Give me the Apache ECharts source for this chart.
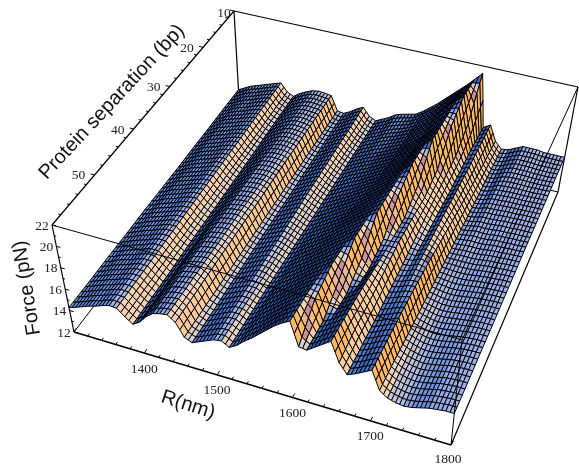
<!DOCTYPE html>
<html><head><meta charset="utf-8"><style>html,body{margin:0;padding:0;background:#fff}#c{width:579px;height:465px}</style>
<script src="https://cdn.jsdelivr.net/npm/echarts@6/dist/echarts.min.js"></script></head>
<body><div id="c"></div>
<script>
// Force (pN); columns R = 1300..1800 nm every 10 nm
const rValues = []; for (let r = 1300; r <= 1800; r += 10) rValues.push(r);
const sepValues = [10,15,20,25,30,35,40,45,50,55,60];
const sep10 = [14.5,14.8,15.1,15.3,15.5,15.7,15.9,16.1,15.4,15.1,15.5,15.8,16.05,16.15,16.1,16.0,14.7,14.6,14.9,15.3,15.6,14.9, 14.6,14.9,15.2,15.6,15.8,15.95,16.1,16.5,17.0,17.5,18.1,18.7,19.3,19.9,20.6,21.3,16.3,16.7,15.3,14.7,14.8,15.1, 15.4,15.4,15.4,15.3,15.3,15.3,15.3];
const sep15 = [14.5,14.75,15.05,15.3,15.45,15.7,15.9,16.05,15.35,15.05,15.45,15.8,16.05,16.15,16.1,16.0,14.7,14.6,14.9,15.25,15.55,14.95, 14.65,15.0,15.25,15.6,15.85,16.05,16.3,16.6,17.1,17.6,18.2,18.9,19.6,20.3,20.9,18.4,16.4,16.65,15.4,14.7,14.8,15.1, 15.3,15.3,15.3,15.25,15.25,15.25,15.3];
const sep20 = [14.45,14.75,15.05,15.25,15.45,15.65,15.85,16.0,15.3,15.0,15.4,15.75,16.05,16.2,16.15,16.0,14.7,14.55,14.85,15.25,15.55,15.0, 14.7,15.05,15.35,15.65,15.9,16.2,16.5,16.8,17.3,17.8,18.3,19.0,19.7,20.4,20.0,17.3,16.3,16.6,15.5,14.7,14.8,15.1, 15.15,15.2,15.2,15.2,15.2,15.25,15.25];
const sep25 = [14.45,14.7,15.0,15.2,15.4,15.65,15.85,15.95,15.25,14.9,15.3,15.75,16.05,16.2,16.2,16.0,14.7,14.55,14.85,15.2,15.5,15.05, 14.75,15.1,15.45,15.75,16.05,16.4,16.75,17.1,17.6,18.1,18.6,19.3,20.0,20.6,17.9,17.1,16.2,16.6,15.7,14.75,14.85,15.05, 15.05,15.1,15.15,15.15,15.2,15.2,15.2];
const sep30 = [14.4,14.65,14.95,15.2,15.4,15.6,15.85,15.9,15.25,14.85,15.25,15.7,16.1,16.2,16.2,16.0,14.7,14.5,14.85,15.2,15.5,15.1, 14.8,15.15,15.5,15.85,16.2,16.6,17.0,17.4,17.9,18.4,19.0,19.6,20.2,18.4,17.4,16.9,16.3,16.7,15.9,14.8,14.9,15.0, 14.95,15.0,15.1,15.1,15.15,15.15,15.2];
const sep35 = [14.4,14.65,14.95,15.15,15.35,15.6,15.8,15.85,15.2,14.8,15.2,15.7,16.1,16.2,16.25,15.95,14.7,14.5,14.8,15.15,15.45,15.15, 14.85,15.2,15.6,16.0,16.4,16.8,17.2,17.7,18.2,18.7,19.3,19.8,19.4,17.5,17.6,16.6,16.3,16.7,16.2,14.85,14.85,14.85, 14.85,14.9,15.0,15.05,15.1,15.15,15.15];
const sep40 = [14.4,14.6,14.9,15.1,15.3,15.55,15.75,15.8,15.15,14.75,15.15,15.7,16.1,16.25,16.3,15.95,14.7,14.5,14.8,15.1,15.4,15.2, 14.9,15.25,15.7,16.1,16.55,17.0,17.5,18.0,18.5,19.0,19.5,19.9,17.6,17.6,17.7,16.3,16.35,16.7,16.5,14.9,14.8,14.7, 14.7,14.8,14.9,15.0,15.05,15.1,15.1];
const sep45 = [14.35,14.6,14.85,15.1,15.3,15.55,15.75,15.75,15.1,14.7,15.05,15.65,16.1,16.25,16.3,15.95,14.7,14.45,14.75,15.1,15.4,15.25, 14.95,15.3,15.8,16.25,16.7,17.2,17.7,18.2,18.7,19.2,19.7,18.0,17.2,17.8,17.4,16.1,16.3,16.6,16.7,14.95,14.75,14.6, 14.6,14.7,14.8,14.9,15.0,15.05,15.05];
const sep50 = [14.35,14.55,14.85,15.05,15.25,15.5,15.7,15.7,15.1,14.6,15.0,15.65,16.1,16.25,16.35,15.95,14.7,14.45,14.75,15.05,15.35,15.3, 15.0,15.35,15.9,16.35,16.85,17.35,17.9,18.4,18.85,19.4,18.2,17.1,17.6,18.1,17.1,15.9,16.2,16.5,16.8,15.0,14.75,14.55, 14.5,14.6,14.75,14.9,15.0,15.05,15.05];
const sep55 = [14.3,14.55,14.8,15.05,15.25,15.5,15.7,15.65,15.05,14.55,14.95,15.6,16.1,16.3,16.35,15.9,14.7,14.4,14.7,15.05,15.35,15.35, 15.0,15.4,15.95,16.45,17.0,17.55,18.1,18.6,19.1,18.8,16.9,17.3,17.8,18.3,17.0,15.8,16.1,16.5,16.8,15.1,14.7,14.5, 14.4,14.5,14.65,14.85,14.95,15.0,15.0];
const sep60 = [14.3,14.5,14.75,15.0,15.2,15.45,15.65,15.6,15.0,14.5,14.9,15.6,16.1,16.3,16.4,15.9,14.7,14.4,14.7,15.0,15.3,15.4, 15.0,15.4,16.0,16.5,17.1,17.7,18.3,18.8,19.2,17.0,16.9,17.4,17.9,18.4,16.6,15.7,16.0,16.4,16.8,15.1,14.6,14.4, 14.3,14.4,14.6,14.8,14.9,15.0,15.0];
const forceRows = [sep10,sep15,sep20,sep25,sep30,sep35,sep40,sep45,sep50,sep55,sep60];
const rTicks = [1400,1500,1600,1700,1800];
const sepTicks = [10,20,30,40,50];
const forceTicks = [12,14,16,18,20,22];

// Camera of the picture: where the eight box corners fall
const W = 579, H = 465;
const BOTTOM = [[74,332],[451,445],[558,192],[240,116]];   // front-left, front-right, back-right, back-left
const TOP    = [[52,225],[462,340],[578,87],[234,11]];
function quad(p){
  const [[x0,y0],[x1,y1],[x2,y2],[x3,y3]] = p;
  const sx=x0-x1+x2-x3, sy=y0-y1+y2-y3, dx1=x1-x2, dx2=x3-x2, dy1=y1-y2, dy2=y3-y2, den=dx1*dy2-dx2*dy1;
  const g=(sx*dy2-dx2*sy)/den, h=(dx1*sy-sx*dy1)/den;
  const a=x1-x0+g*x1, b=x3-x0+h*x3, d=y1-y0+g*y1, e=y3-y0+h*y3;
  return (u,v)=>{const w=g*u+h*v+1; return [(a*u+b*v+x0)/w,(d*u+e*v+y0)/w];};
}
const qB = quad(BOTTOM), qT = quad(TOP);
// api.coord maps (R, sep) through the hidden value axes to 0..1 box fractions
function project(api, R, sep, F){
  const c = api.coord([R, sep]);
  const u = c[0]/W, v = c[1]/H, w = (F-12)/10;
  const b = qB(u,v), t = qT(u,v);
  return [b[0]+(t[0]-b[0])*w, b[1]+(t[1]-b[1])*w];
}
function force(R, sep){
  const fc = Math.min((R-1300)/10, 49.9999), fr = Math.min((sep-10)/5, 9.9999);
  const c = Math.floor(fc), r = Math.floor(fr), a = fc-c, b = fr-r;
  const A = forceRows[r], B = forceRows[r+1];
  return (A[c]*(1-a)+A[c+1]*a)*(1-b)+(B[c]*(1-a)+B[c+1]*a)*b;
}
// Lighting: colour from the local slope
const hex = s=>[parseInt(s.slice(1,3),16),parseInt(s.slice(3,5),16),parseInt(s.slice(5,7),16)];
const stops = [[-1.5,'#FFB964'],[-1.2,'#F9CC9E'],[-0.8,'#F8CFA8'],[-0.5,'#F4D4B6'],[-0.3,'#DACFCC'],[-0.15,'#BCC0DC'],[0,'#9FB1E6'],[0.1,'#90A7E6'],[0.2,'#6D90E0'],[0.3,'#4F78D0'],[0.5,'#3060B8'],[1,'#1A3A80']].map(s=>[s[0],hex(s[1])]);
const mix=(p,q,t)=>[p[0]+(q[0]-p[0])*t,p[1]+(q[1]-p[1])*t,p[2]+(q[2]-p[2])*t];
const clamp=t=>Math.max(0,Math.min(1,t));
function shade(a,b){
  let col = stops[stops.length-1][1];
  if (a<=stops[0][0]) col = stops[0][1];
  else for (let i=1;i<stops.length;i++) if (a<=stops[i][0]) { col = mix(stops[i-1][1],stops[i][1],(a-stops[i-1][0])/(stops[i][0]-stops[i-1][0])); break; }
  if (a<-0.4) col = mix(col,hex('#C78C9E'),clamp((-b-0.5)/0.5)*(a>-0.9?1:clamp((a+1.4)/0.5)));
  if (b>0.05 && a>-0.3) col = mix(col,hex('#0E2560'),Math.min(0.85,(b-0.05)/0.4));
  return 'rgb('+col.map(Math.round).join(',')+')';
}
const dR = 5, dS = 1;
const cells = [];
for (let s=10; s<60; s+=dS) for (let r=1300; r<1800; r+=dR) cells.push([r,s]);

function renderCell(params, api){
  const R = api.value(0), S = api.value(1);
  const f00=force(R,S), f10=force(R+dR,S), f01=force(R,S+dS), f11=force(R+dR,S+dS);
  const a = ((f10-f00)+(f11-f01))/2/dR*10;
  const b = ((f01-f00)+(f11-f10))/2/dS*5;
  return {type:'polygon', shape:{points:[project(api,R,S,f00),project(api,R+dR,S,f10),project(api,R+dR,S+dS,f11),project(api,R,S+dS,f01)]},
    style:{fill:shade(a,b),stroke:'#000',lineWidth:1,lineJoin:'round'}, silent:true};
}
const P=(api,R,S,F)=>project(api,R,S,F);
const seg=(p,q,lw)=>({type:'line',shape:{x1:p[0],y1:p[1],x2:q[0],y2:q[1]},style:{stroke:'#000',lineWidth:lw||1.2},silent:true});
function renderBack(params, api){
  const c=(R,S,F)=>P(api,R,S,F), ch=[];
  ch.push(seg(c(1300,10,22),c(1800,10,22)));
  ch.push(seg(c(1300,60,22),c(1300,10,22)));
  ch.push(seg(c(1300,10,22),c(1300,10,12)));
  ch.push(seg(c(1800,10,22),c(1800,10,12)));
  ch.push(seg(c(1300,60,12),c(1300,10,12),1));
  ch.push(seg(c(1300,10,12),c(1800,10,12),1));
  ch.push(seg(c(1800,60,12),c(1800,10,12)));
  return {type:'group',children:ch,silent:true};
}
const TICK='13.5px "Liberation Serif"', TITLE='20px "Liberation Sans"';
const txt=(s,x,y,font,rot,color)=>({type:'text',x,y,rotation:rot||0,style:{text:s,font,fill:color||'#222',align:'center',verticalAlign:'middle'},silent:true});
function renderFront(params, api){
  const c=(R,S,F)=>P(api,R,S,F), ch=[];
  ch.push(seg(c(1300,60,22),c(1800,60,22),1));
  ch.push(seg(c(1800,60,22),c(1800,10,22),1));
  ch.push(seg(c(1800,60,22),c(1800,60,12),1));
  ch.push(seg(c(1300,60,22),c(1300,60,12)));
  ch.push(seg(c(1300,60,12),c(1800,60,12),1.5));
  // R axis
  for (let r=1300;r<=1800;r+=20){ const p=c(r,60,12), maj=r%100===0; ch.push(seg(p,[p[0]+(maj?2.5:1.5),p[1]-(maj?4:2.5)],1)); }
  rTicks.forEach(r=>{const p=c(r,60,12); ch.push(txt(String(r),p[0]-(r===1800?3:0),p[1]+(r===1800?14:16),TICK));});
  // separation axis
  for (let s=10;s<60;s+=2){ const p=c(1300,s,22), maj=s%10===0; ch.push(seg(p,[p[0]-(maj?4:2.5),p[1]-(maj?1:0.6)],1)); }
  sepTicks.forEach(s=>{const p=c(1300,s,22); ch.push(txt(String(s),p[0]-(s===10?10:16),p[1]+(s===10?2:1),TICK));});
  // force axis
  for (let f=12;f<=22;f+=1){ const p=c(1300,60,f), maj=f%2===0; ch.push(seg(p,[p[0]+(maj?4:2),p[1]+(maj?1:0.5)],1)); }
  forceTicks.forEach(f=>{const p=c(1300,60,f); ch.push(txt(String(f),p[0]-10,p[1]+1,TICK));});
  ch.push(txt('Protein separation (bp)',112,102,TITLE,47*Math.PI/180,'#111'));
  ch.push(txt('Force (pN)',27,288,TITLE,99*Math.PI/180,'#111'));
  ch.push(txt('R(nm)',188,405,TITLE,-18*Math.PI/180,'#111'));
  return {type:'group',children:ch,silent:true};
}
const chart = echarts.init(document.getElementById('c'),null,{renderer:'canvas',width:W,height:H});
chart.setOption({
  animation:false, backgroundColor:'#fff',
  grid:{left:0,right:0,top:0,bottom:0,containLabel:false},
  xAxis:{type:'value',min:1300,max:1800,show:false},
  yAxis:{type:'value',min:10,max:60,show:false},
  series:[
    {type:'custom',coordinateSystem:'cartesian2d',z:1,clip:false,silent:true,data:[[1300,10]],renderItem:renderBack},
    {type:'custom',coordinateSystem:'cartesian2d',z:2,clip:false,silent:true,progressive:0,data:cells,renderItem:renderCell},
    {type:'custom',coordinateSystem:'cartesian2d',z:3,clip:false,silent:true,data:[[1300,10]],renderItem:renderFront}
  ]
});
</script></body></html>
